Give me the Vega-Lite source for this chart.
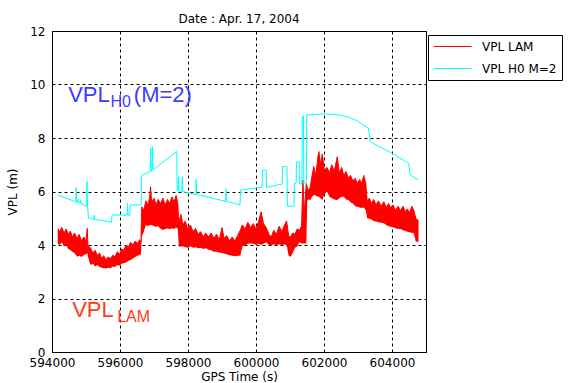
{
  "$schema": "https://vega.github.io/schema/vega-lite/v6.json",
  "width": 374,
  "height": 321,
  "autosize": "none",
  "padding": {"left": 52, "top": 31, "right": 144, "bottom": 31},
  "background": "white",
  "title": {"text": "Date : Apr. 17, 2004", "font": "DejaVu Sans", "fontSize": 12, "fontWeight": "normal", "color": "black", "offset": -1, "anchor": "middle"},
  "config": {
    "view": {"stroke": "black", "strokeWidth": 1},
    "axis": {"labelFont": "DejaVu Sans", "labelFontSize": 12, "labelColor": "black", "titleFont": "DejaVu Sans", "titleFontSize": 12, "titleFontWeight": "normal", "titleColor": "black", "grid": true, "gridColor": "black", "gridDash": [3, 3], "gridOpacity": 1, "gridWidth": 1, "domainColor": "black", "ticks": false},
    "axisX": {"labelPadding": 5, "titlePadding": 3, "labelFlush": false},
    "axisY": {"labelPadding": 7, "titlePadding": 10, "tickCount": 7},
    "legend": {"orient": "none", "legendX": 376, "legendY": 4, "strokeColor": "black", "fillColor": "white", "padding": 5, "symbolType": "stroke", "symbolSize": 1444, "symbolStrokeWidth": 1, "labelFont": "DejaVu Sans", "labelFontSize": 12, "labelColor": "black", "labelOffset": 10, "rowPadding": 9, "clipHeight": 13}
  },
  "datasets": {
    "lam": [
      {"t": 594170, "lo": 4.05, "hi": 4.62},
      {"t": 594230, "lo": 4.0, "hi": 4.5},
      {"t": 594290, "lo": 4.1, "hi": 4.66},
      {"t": 594350, "lo": 3.94, "hi": 4.45},
      {"t": 594420, "lo": 3.98, "hi": 4.6},
      {"t": 594480, "lo": 3.85, "hi": 4.4},
      {"t": 594540, "lo": 3.81, "hi": 4.52},
      {"t": 594600, "lo": 3.75, "hi": 4.3},
      {"t": 594660, "lo": 3.7, "hi": 4.45},
      {"t": 594740, "lo": 3.56, "hi": 4.25},
      {"t": 594800, "lo": 3.6, "hi": 4.4},
      {"t": 594870, "lo": 3.55, "hi": 4.15},
      {"t": 594940, "lo": 3.63, "hi": 4.3},
      {"t": 595000, "lo": 3.65, "hi": 4.15},
      {"t": 595035, "lo": 3.7, "hi": 4.62},
      {"t": 595060, "lo": 3.55, "hi": 3.95},
      {"t": 595130, "lo": 3.25, "hi": 3.9},
      {"t": 595200, "lo": 3.3, "hi": 3.7},
      {"t": 595270, "lo": 3.2, "hi": 3.8},
      {"t": 595330, "lo": 3.25, "hi": 3.62},
      {"t": 595400, "lo": 3.18, "hi": 3.7},
      {"t": 595460, "lo": 3.15, "hi": 3.5},
      {"t": 595520, "lo": 3.13, "hi": 3.6},
      {"t": 595590, "lo": 3.12, "hi": 3.45},
      {"t": 595650, "lo": 3.15, "hi": 3.55},
      {"t": 595720, "lo": 3.13, "hi": 3.5},
      {"t": 595790, "lo": 3.2, "hi": 3.62},
      {"t": 595850, "lo": 3.18, "hi": 3.55},
      {"t": 595920, "lo": 3.25, "hi": 3.75},
      {"t": 595990, "lo": 3.22, "hi": 3.65},
      {"t": 596050, "lo": 3.3, "hi": 3.85},
      {"t": 596110, "lo": 3.32, "hi": 3.8},
      {"t": 596180, "lo": 3.35, "hi": 4.0},
      {"t": 596240, "lo": 3.4, "hi": 3.9},
      {"t": 596310, "lo": 3.44, "hi": 4.1},
      {"t": 596380, "lo": 3.5, "hi": 4.0},
      {"t": 596450, "lo": 3.55, "hi": 4.15},
      {"t": 596510, "lo": 3.6, "hi": 4.05},
      {"t": 596580, "lo": 3.63, "hi": 4.2},
      {"t": 596615, "lo": 3.65, "hi": 4.1},
      {"t": 596640, "lo": 4.31, "hi": 5.43},
      {"t": 596700, "lo": 4.5, "hi": 5.3},
      {"t": 596760, "lo": 4.75, "hi": 5.65},
      {"t": 596820, "lo": 4.7, "hi": 5.5},
      {"t": 596870, "lo": 4.75, "hi": 5.75},
      {"t": 596900, "lo": 4.75, "hi": 6.18},
      {"t": 596930, "lo": 4.75, "hi": 5.6},
      {"t": 597000, "lo": 4.7, "hi": 5.75},
      {"t": 597060, "lo": 4.68, "hi": 5.5},
      {"t": 597120, "lo": 4.7, "hi": 5.7},
      {"t": 597200, "lo": 4.6, "hi": 5.55},
      {"t": 597260, "lo": 4.56, "hi": 5.75},
      {"t": 597330, "lo": 4.6, "hi": 5.5},
      {"t": 597400, "lo": 4.62, "hi": 5.7},
      {"t": 597460, "lo": 4.6, "hi": 5.55},
      {"t": 597530, "lo": 4.62, "hi": 5.8},
      {"t": 597590, "lo": 4.6, "hi": 5.6},
      {"t": 597650, "lo": 4.65, "hi": 5.85},
      {"t": 597700, "lo": 4.6, "hi": 5.55},
      {"t": 597730, "lo": 3.94, "hi": 4.81},
      {"t": 597790, "lo": 3.94, "hi": 5.15},
      {"t": 597850, "lo": 3.95, "hi": 4.75},
      {"t": 597920, "lo": 3.92, "hi": 4.9},
      {"t": 597990, "lo": 3.9, "hi": 4.6},
      {"t": 598070, "lo": 3.95, "hi": 4.75},
      {"t": 598150, "lo": 3.9, "hi": 4.5},
      {"t": 598220, "lo": 3.92, "hi": 4.62},
      {"t": 598300, "lo": 3.88, "hi": 4.4},
      {"t": 598370, "lo": 3.9, "hi": 4.5},
      {"t": 598450, "lo": 3.85, "hi": 4.3},
      {"t": 598520, "lo": 3.88, "hi": 4.45},
      {"t": 598600, "lo": 3.82, "hi": 4.3},
      {"t": 598680, "lo": 3.8, "hi": 4.45},
      {"t": 598760, "lo": 3.75, "hi": 4.25},
      {"t": 598840, "lo": 3.75, "hi": 4.4},
      {"t": 598920, "lo": 3.72, "hi": 4.2},
      {"t": 599000, "lo": 3.7, "hi": 4.65},
      {"t": 599060, "lo": 3.68, "hi": 4.25},
      {"t": 599140, "lo": 3.65, "hi": 4.35},
      {"t": 599220, "lo": 3.62, "hi": 4.15},
      {"t": 599300, "lo": 3.6, "hi": 4.3},
      {"t": 599380, "lo": 3.58, "hi": 4.15},
      {"t": 599460, "lo": 3.6, "hi": 4.35},
      {"t": 599540, "lo": 3.6, "hi": 4.56},
      {"t": 599600, "lo": 3.95, "hi": 4.75},
      {"t": 599680, "lo": 3.98, "hi": 4.6},
      {"t": 599760, "lo": 4.05, "hi": 4.85},
      {"t": 599840, "lo": 4.06, "hi": 4.65},
      {"t": 599920, "lo": 4.05, "hi": 4.8},
      {"t": 600000, "lo": 4.0, "hi": 4.6},
      {"t": 600080, "lo": 4.05, "hi": 4.9},
      {"t": 600150, "lo": 4.0, "hi": 5.24},
      {"t": 600220, "lo": 4.05, "hi": 4.8},
      {"t": 600300, "lo": 4.1, "hi": 4.65},
      {"t": 600380, "lo": 4.0, "hi": 4.4},
      {"t": 600450, "lo": 4.0, "hi": 4.3},
      {"t": 600520, "lo": 4.02, "hi": 4.55},
      {"t": 600600, "lo": 4.0, "hi": 4.4},
      {"t": 600680, "lo": 4.02, "hi": 4.7},
      {"t": 600760, "lo": 4.0, "hi": 4.5},
      {"t": 600840, "lo": 4.02, "hi": 4.75},
      {"t": 600900, "lo": 4.0, "hi": 4.9},
      {"t": 600960, "lo": 3.6, "hi": 4.35},
      {"t": 601020, "lo": 3.56, "hi": 4.3},
      {"t": 601080, "lo": 3.7, "hi": 4.45},
      {"t": 601150, "lo": 3.9, "hi": 4.4},
      {"t": 601210, "lo": 3.94, "hi": 4.6},
      {"t": 601280, "lo": 4.1, "hi": 4.55},
      {"t": 601340, "lo": 4.06, "hi": 4.7},
      {"t": 601380, "lo": 4.06, "hi": 6.43},
      {"t": 601420, "lo": 4.06, "hi": 5.2},
      {"t": 601480, "lo": 4.06, "hi": 6.3},
      {"t": 601510, "lo": 5.68, "hi": 6.15},
      {"t": 601560, "lo": 5.7, "hi": 6.0},
      {"t": 601600, "lo": 5.68, "hi": 6.2},
      {"t": 601650, "lo": 5.8, "hi": 6.6},
      {"t": 601700, "lo": 5.87, "hi": 6.93},
      {"t": 601760, "lo": 5.85, "hi": 6.6},
      {"t": 601820, "lo": 5.8, "hi": 7.3},
      {"t": 601850, "lo": 5.8, "hi": 7.49},
      {"t": 601900, "lo": 5.75, "hi": 7.0},
      {"t": 601950, "lo": 5.68, "hi": 7.4},
      {"t": 602010, "lo": 5.9, "hi": 6.8},
      {"t": 602090, "lo": 6.0, "hi": 6.9},
      {"t": 602160, "lo": 5.8, "hi": 6.7},
      {"t": 602230, "lo": 5.75, "hi": 7.0},
      {"t": 602300, "lo": 5.7, "hi": 6.75},
      {"t": 602390, "lo": 5.68, "hi": 7.3},
      {"t": 602450, "lo": 5.75, "hi": 6.7},
      {"t": 602520, "lo": 5.8, "hi": 6.9},
      {"t": 602580, "lo": 5.8, "hi": 6.6},
      {"t": 602650, "lo": 5.7, "hi": 6.75},
      {"t": 602720, "lo": 5.68, "hi": 6.5},
      {"t": 602780, "lo": 5.6, "hi": 6.6},
      {"t": 602850, "lo": 5.55, "hi": 6.4},
      {"t": 602920, "lo": 5.45, "hi": 6.5},
      {"t": 602980, "lo": 5.43, "hi": 6.3},
      {"t": 603050, "lo": 5.4, "hi": 6.45},
      {"t": 603110, "lo": 5.38, "hi": 6.3},
      {"t": 603170, "lo": 5.4, "hi": 6.6},
      {"t": 603230, "lo": 5.3, "hi": 6.3},
      {"t": 603270, "lo": 5.0, "hi": 5.62},
      {"t": 603330, "lo": 4.98, "hi": 5.75},
      {"t": 603400, "lo": 4.95, "hi": 5.55},
      {"t": 603460, "lo": 4.9, "hi": 5.7},
      {"t": 603530, "lo": 4.88, "hi": 5.5},
      {"t": 603600, "lo": 4.85, "hi": 5.65},
      {"t": 603680, "lo": 4.83, "hi": 5.45},
      {"t": 603760, "lo": 4.81, "hi": 5.62},
      {"t": 603830, "lo": 4.75, "hi": 5.4},
      {"t": 603900, "lo": 4.7, "hi": 5.55},
      {"t": 603960, "lo": 4.68, "hi": 5.4},
      {"t": 604030, "lo": 4.66, "hi": 5.5},
      {"t": 604100, "lo": 4.63, "hi": 5.3},
      {"t": 604180, "lo": 4.6, "hi": 5.45},
      {"t": 604250, "lo": 4.6, "hi": 5.28},
      {"t": 604320, "lo": 4.55, "hi": 5.45},
      {"t": 604390, "lo": 4.52, "hi": 5.25},
      {"t": 604450, "lo": 4.5, "hi": 5.35},
      {"t": 604520, "lo": 4.48, "hi": 5.2},
      {"t": 604580, "lo": 4.46, "hi": 5.45},
      {"t": 604640, "lo": 4.44, "hi": 5.3},
      {"t": 604700, "lo": 4.12, "hi": 5.0},
      {"t": 604780, "lo": 4.12, "hi": 4.9}
    ],
    "h0": [
      {"t": 594170, "v": 5.87},
      {"t": 594700, "v": 5.61},
      {"t": 594710, "v": 6.15},
      {"t": 594725, "v": 5.6},
      {"t": 594760, "v": 5.59},
      {"t": 594770, "v": 5.72},
      {"t": 594785, "v": 5.58},
      {"t": 594830, "v": 5.56},
      {"t": 594840, "v": 5.68},
      {"t": 594855, "v": 5.55},
      {"t": 595020, "v": 5.45},
      {"t": 595030, "v": 6.37},
      {"t": 595045, "v": 5.44},
      {"t": 595075, "v": 5.0},
      {"t": 595130, "v": 4.99},
      {"t": 595230, "v": 4.96},
      {"t": 595240, "v": 5.12},
      {"t": 595255, "v": 4.96},
      {"t": 595750, "v": 4.85},
      {"t": 595765, "v": 5.12},
      {"t": 596210, "v": 5.12},
      {"t": 596220, "v": 5.57},
      {"t": 596240, "v": 5.12},
      {"t": 596290, "v": 5.12},
      {"t": 596300, "v": 5.5},
      {"t": 596620, "v": 5.5},
      {"t": 596635, "v": 6.6},
      {"t": 596890, "v": 6.75},
      {"t": 596900, "v": 7.62},
      {"t": 596915, "v": 6.76},
      {"t": 596940, "v": 6.77},
      {"t": 596950, "v": 7.67},
      {"t": 596965, "v": 6.8},
      {"t": 597670, "v": 7.5},
      {"t": 597680, "v": 6.03},
      {"t": 597710, "v": 6.02},
      {"t": 597720, "v": 6.55},
      {"t": 597735, "v": 6.02},
      {"t": 597820, "v": 6.0},
      {"t": 597830, "v": 6.55},
      {"t": 597845, "v": 6.0},
      {"t": 598230, "v": 5.89},
      {"t": 598240, "v": 6.45},
      {"t": 598255, "v": 5.89},
      {"t": 599110, "v": 5.63},
      {"t": 599120, "v": 6.1},
      {"t": 599135, "v": 5.63},
      {"t": 599530, "v": 5.5},
      {"t": 599545, "v": 6.05},
      {"t": 600180, "v": 6.16},
      {"t": 600190, "v": 6.8},
      {"t": 600300, "v": 6.8},
      {"t": 600310, "v": 6.15},
      {"t": 600770, "v": 6.28},
      {"t": 600780, "v": 6.93},
      {"t": 600910, "v": 6.93},
      {"t": 600925, "v": 5.45},
      {"t": 601120, "v": 5.45},
      {"t": 601130, "v": 6.3},
      {"t": 601180, "v": 6.3},
      {"t": 601190, "v": 7.1},
      {"t": 601270, "v": 7.1},
      {"t": 601280, "v": 6.28},
      {"t": 601350, "v": 6.29},
      {"t": 601360, "v": 8.82},
      {"t": 601395, "v": 8.82},
      {"t": 601405, "v": 6.3},
      {"t": 601480, "v": 6.37},
      {"t": 601495, "v": 8.86},
      {"t": 601990, "v": 8.9},
      {"t": 602480, "v": 8.86},
      {"t": 602730, "v": 8.77},
      {"t": 602970, "v": 8.65},
      {"t": 603310, "v": 8.36},
      {"t": 603360, "v": 7.86},
      {"t": 604000, "v": 7.43},
      {"t": 604490, "v": 7.05},
      {"t": 604535, "v": 6.62},
      {"t": 604780, "v": 6.43}
    ]
  },
  "encoding": {
    "x": {"field": "t", "type": "quantitative", "title": "GPS Time (s)", "scale": {"domain": [594000, 605000], "nice": false, "zero": false}, "axis": {"values": [594000, 596000, 598000, 600000, 602000, 604000], "format": "d"}}
  },
  "layer": [
    {
      "data": {"name": "lam"},
      "mark": {"type": "area", "color": "#ff0000", "opacity": 1},
      "encoding": {
        "y": {"field": "lo", "type": "quantitative", "title": "VPL (m)", "scale": {"domain": [0, 12], "nice": false}},
        "y2": {"field": "hi"}
      }
    },
    {
      "data": {"name": "lam"},
      "mark": {"type": "line", "strokeWidth": 1},
      "encoding": {
        "y": {"field": "hi", "type": "quantitative", "title": "VPL (m)"},
        "color": {"datum": "VPL LAM", "scale": {"domain": ["VPL LAM", "VPL H0 M=2"], "range": ["#ff0000", "#00ffff"]}, "legend": {"title": null, "encode": {"symbols": {"update": {"fill": {"value": "transparent"}, "strokeWidth": {"value": 1}}}}}}
      }
    },
    {
      "data": {"name": "h0"},
      "mark": {"type": "line", "strokeWidth": 1},
      "encoding": {
        "y": {"field": "v", "type": "quantitative", "title": "VPL (m)"},
        "color": {"datum": "VPL H0 M=2"}
      }
    },
    {
      "data": {"values": [{"t": 594476, "v": 9.36, "txt": "VPL"}, {"t": 596406, "v": 9.36, "txt": "(M=2)"}]},
      "mark": {"type": "text", "font": "Liberation Sans", "fontSize": 22, "color": "#3c3cff", "align": "left", "baseline": "alphabetic"},
      "encoding": {"y": {"field": "v", "type": "quantitative", "title": "VPL (m)"}, "text": {"field": "txt"}}
    },
    {
      "data": {"values": [{"t": 595720, "v": 9.17, "txt": "H0"}]},
      "mark": {"type": "text", "font": "Liberation Sans", "fontSize": 16, "color": "#3c3cff", "align": "left", "baseline": "alphabetic"},
      "encoding": {"y": {"field": "v", "type": "quantitative", "title": "VPL (m)"}, "text": {"field": "txt"}}
    },
    {
      "data": {"values": [{"t": 594594, "v": 1.32, "txt": "VPL"}]},
      "mark": {"type": "text", "font": "Liberation Sans", "fontSize": 22, "color": "#ff3c14", "align": "left", "baseline": "alphabetic"},
      "encoding": {"y": {"field": "v", "type": "quantitative", "title": "VPL (m)"}, "text": {"field": "txt"}}
    },
    {
      "data": {"values": [{"t": 595917, "v": 1.13, "txt": "LAM"}]},
      "mark": {"type": "text", "font": "Liberation Sans", "fontSize": 16, "color": "#ff3c14", "align": "left", "baseline": "alphabetic"},
      "encoding": {"y": {"field": "v", "type": "quantitative", "title": "VPL (m)"}, "text": {"field": "txt"}}
    }
  ]
}
